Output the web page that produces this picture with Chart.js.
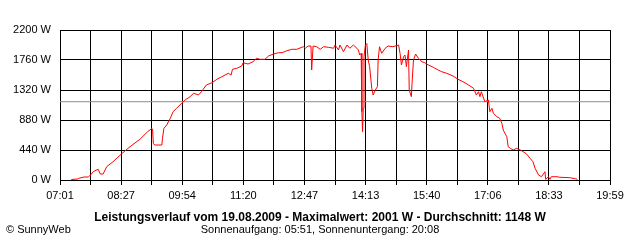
<!DOCTYPE html>
<html>
<head>
<meta charset="utf-8">
<script src="https://cdn.jsdelivr.net/npm/chart.js@4"></script>
<style>
  html, body { margin: 0; padding: 0; background: #fff; }
</style>
</head>
<body>
<canvas id="myChart" width="640" height="240"></canvas>
<script>
// Zeitpunkte in Minuten seit Mitternacht (07:01 = 421)
const zeitMin = [
  437, 446, 449, 455, 461, 463, 468, 475, 478, 482,
  487, 496, 509, 520, 534, 545, 551, 552, 553, 555,
  565, 566, 568, 572, 577, 581, 586, 593, 598, 605,
  610, 617, 621, 628, 636, 643, 650, 659, 663, 665,
  671, 678, 680, 687, 694, 699, 704, 711, 716, 723,
  730, 735, 742, 749, 756, 765, 768, 772, 776, 777,
  779, 784, 789, 794, 801, 808, 810, 815, 817, 822,
  827, 831, 836, 841, 843, 845, 847, 848, 849, 850,
  851, 853, 855, 857, 859, 862, 864, 867, 870, 871,
  873, 876, 881, 885, 892, 900, 902, 904, 907, 909,
  911, 914, 915, 918, 919, 921, 924, 928, 933, 937,
  942, 949, 956, 961, 968, 977, 984, 991, 999, 1006,
  1010, 1013, 1015, 1017, 1022, 1027, 1029, 1032, 1034, 1039,
  1043, 1046, 1048, 1053, 1055, 1058, 1062, 1067, 1074, 1081,
  1086, 1090, 1093, 1098, 1102, 1107, 1108, 1112, 1114, 1116,
  1124, 1128, 1142, 1150, 1153
];

// Leistung in W
const leistungW = [
  7, 15, 29, 44, 44, 59, 122, 157, 88, 88,
  195, 268, 392, 488, 597, 708, 758, 733, 538, 513,
  513, 612, 758, 807, 905, 1002, 1052, 1125, 1173, 1222,
  1272, 1247, 1295, 1393, 1427, 1477, 1515, 1565, 1540, 1624,
  1638, 1672, 1720, 1701, 1735, 1785, 1770, 1770, 1819, 1848,
  1867, 1867, 1896, 1917, 1917, 1955, 1932, 1965, 1965, 1613,
  1965, 1955, 1917, 1955, 1946, 1932, 1980, 1907, 1980, 1882,
  1980, 1932, 1980, 1932, 1907, 1833, 1858, 1002, 708, 1052,
  1808, 1980, 2001, 1760, 1662, 1345, 1247, 1320, 1368, 1760,
  1955, 1858, 1932, 1965, 1955, 1980, 1858, 1687, 1808, 1833,
  1662, 1907, 1320, 1222, 1418, 1760, 1848, 1785, 1735, 1720,
  1687, 1653, 1613, 1588, 1565, 1525, 1477, 1442, 1393, 1345,
  1247, 1295, 1222, 1295, 1148, 1173, 1002, 1052, 978, 928,
  905, 832, 733, 635, 488, 465, 440, 465, 430, 381,
  318, 268, 172, 73, 48, 122, 10, 48, 10, 48,
  48, 40, 34, 19, 10
];

const etiquetasX = ['07:01', '08:27', '09:54', '11:20', '12:47', '14:13', '15:40', '17:06', '18:33', '19:59'];
const ticksY = [0, 440, 880, 1320, 1760, 2200];

const datum = '19.08.2009';
const maximalwert = 2001;
const durchschnitt = 1148;
const sonnenaufgang = '05:51';
const sonnenuntergang = '20:08';

const xMin = 421, xMax = 1199, teilungen = 18;
const fuente = '"Liberation Sans", Arial, sans-serif';

const puntos = zeitMin.map((t, i) => ({ x: t, y: leistungW[i] }));

// textos de abajo del gráfico
const textosPlugin = {
  id: 'textos',
  afterDraw(chart) {
    const ctx = chart.ctx;
    ctx.save();
    ctx.fillStyle = '#000';
    ctx.textBaseline = 'alphabetic';
    ctx.textAlign = 'center';
    ctx.font = 'bold 12px ' + fuente;
    ctx.fillText(`Leistungsverlauf vom ${datum} - Maximalwert: ${maximalwert} W - Durchschnitt: ${durchschnitt} W`, 320, 221);
    ctx.font = '11px ' + fuente;
    ctx.fillText(`Sonnenaufgang: ${sonnenaufgang}, Sonnenuntergang: ${sonnenuntergang}`, 320, 233);
    ctx.textAlign = 'left';
    ctx.fillText('\u00A9 SunnyWeb', 6, 233);
    ctx.restore();
  }
};

const ctx = document.getElementById('myChart').getContext('2d');
new Chart(ctx, {
  type: 'line',
  data: {
    datasets: [
      {
        label: 'Leistung',
        data: puntos,
        borderColor: '#ff0000',
        borderWidth: 1,
        pointRadius: 0,
        tension: 0,
        order: 1
      },
      {
        label: 'Durchschnitt',
        data: [{ x: xMin, y: durchschnitt }, { x: xMax, y: durchschnitt }],
        borderColor: '#8c8c8c',
        borderWidth: 1,
        pointRadius: 0,
        order: 2
      }
    ]
  },
  options: {
    responsive: false,
    animation: false,
    devicePixelRatio: 1,
    layout: { padding: { top: 30, right: 30, left: 0, bottom: 0 } },
    plugins: { legend: { display: false }, tooltip: { enabled: false } },
    scales: {
      x: {
        type: 'linear',
        min: xMin,
        max: xMax,
        afterBuildTicks: (scale) => {
          const ticks = [];
          for (let i = 0; i <= teilungen; i++) ticks.push({ value: xMin + (xMax - xMin) * i / teilungen });
          scale.ticks = ticks;
        },
        afterFit: (scale) => { scale.height = 60; },
        grid: { color: '#000', lineWidth: 1, tickLength: 5 },
        border: { color: '#000' },
        ticks: {
          autoSkip: false,
          maxRotation: 0,
          padding: 4,
          color: '#000',
          font: { family: fuente, size: 11 },
          callback: (v, i) => (i % 2 === 0 ? etiquetasX[i / 2] : '')
        }
      },
      y: {
        min: 0,
        max: 2200,
        afterBuildTicks: (scale) => { scale.ticks = ticksY.map(v => ({ value: v })); },
        afterFit: (scale) => { scale.width = 60; },
        grid: { color: '#000', lineWidth: 1, drawTicks: false },
        border: { color: '#000' },
        ticks: {
          padding: 9,
          color: '#000',
          font: { family: fuente, size: 11 },
          callback: (v) => v + ' W'
        }
      }
    }
  },
  plugins: [textosPlugin]
});
</script>
</body>
</html>
